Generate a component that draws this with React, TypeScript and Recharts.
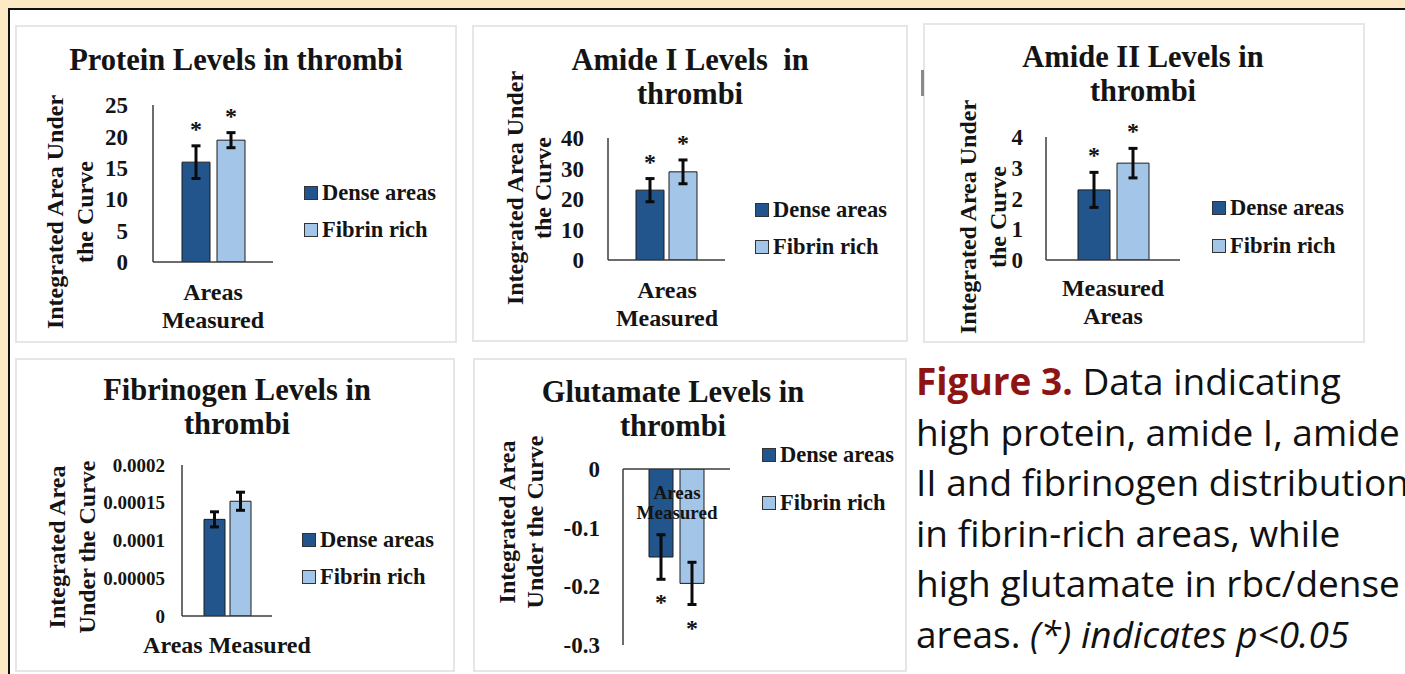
import React from 'react';
import { BarChart, Bar, XAxis, YAxis, ErrorBar, LabelList } from 'recharts';

// ---------------- data ----------------
const seriesNames = ['Dense areas', 'Fibrin rich'];
const seriesKeys = ['dense', 'fibrin'];
const category = 'Areas Measured';

const proteinValues = [15.9, 19.4];
const proteinErrors = [2.6, 1.2];
const proteinTicks = [0, 5, 10, 15, 20, 25];
const proteinStars = [true, true];

const amide1Values = [22.9, 28.9];
const amide1Errors = [3.8, 3.9];
const amide1Ticks = [0, 10, 20, 30, 40];
const amide1Stars = [true, true];

const amide2Values = [2.28, 3.15];
const amide2Errors = [0.57, 0.48];
const amide2Ticks = [0, 1, 2, 3, 4];
const amide2Stars = [true, true];

const fibrinogenValues = [0.000128, 0.000152];
const fibrinogenErrors = [0.00001, 0.000012];
const fibrinogenTicks = [0, 0.00005, 0.0001, 0.00015, 0.0002];
const fibrinogenStars = [false, false];

const glutamateValues = [-0.15, -0.195];
const glutamateErrors = [0.038, 0.036];
const glutamateTicks = [-0.3, -0.2, -0.1, 0];
const glutamateStars = [true, true];

const captionLines = [
  'high protein, amide I, amide',
  'II and fibrinogen distribution',
  'in fibrin-rich areas, while',
  'high glutamate in rbc/dense',
];

// ---------------- styles ----------------
const seriesColors = ['#21558C', '#A3C5E8'];
const SERIF = '"Liberation Serif", "Times New Roman", serif';
const INK = '#141414';

const makeData = (values: number[], errors: number[]) => [
  {
    category,
    dense: values[0],
    denseErr: errors[0],
    fibrin: values[1],
    fibrinErr: errors[1],
  },
];

const layouts: Record<string, any> = {
  protein: {
    px: 15, py: 25, pw: 442, ph: 318,
    axisX: 153, plotTop: 105, plotBottom: 262, plotRight: 273,
    barSize: 28, barGap: 7, tickFont: 23, tickGap: 25,
    titleLines: ['Protein Levels in thrombi'], titleX: 236, titleY: 60,
    yLines: ['Integrated Area Under', 'the Curve'], yX: 70, yY: 212, yFont: 24, yLH: 30,
    xLines: ['Areas', 'Measured'], xX: 213, xY: 292, xFont: 24, xLH: 28,
    legendX: 304, legendY: [193, 230], xTop: false,
  },
  amide1: {
    px: 472, py: 25, pw: 436, ph: 317,
    axisX: 608, plotTop: 138, plotBottom: 260, plotRight: 725,
    barSize: 28, barGap: 5, tickFont: 23, tickGap: 24,
    titleLines: ['Amide I Levels  in', 'thrombi'], titleX: 690, titleY: 60,
    yLines: ['Integrated Area Under', 'the Curve'], yX: 529, yY: 188, yFont: 24, yLH: 28,
    xLines: ['Areas', 'Measured'], xX: 667, xY: 290, xFont: 24, xLH: 28,
    legendX: 755, legendY: [210, 247], xTop: false,
  },
  amide2: {
    px: 923, py: 23, pw: 442, ph: 320,
    axisX: 1046, plotTop: 137, plotBottom: 260, plotRight: 1180,
    barSize: 32, barGap: 7, tickFont: 23, tickGap: 23,
    titleLines: ['Amide II Levels in', 'thrombi'], titleX: 1143, titleY: 57,
    yLines: ['Integrated Area Under', 'the Curve'], yX: 983, yY: 217, yFont: 24, yLH: 30,
    xLines: ['Measured', 'Areas'], xX: 1113, xY: 288, xFont: 24, xLH: 28,
    legendX: 1212, legendY: [208, 246], xTop: false,
  },
  fibrinogen: {
    px: 15, py: 358, pw: 440, ph: 314,
    axisX: 182, plotTop: 465, plotBottom: 616, plotRight: 272,
    barSize: 21, barGap: 5, tickFont: 19, tickGap: 17,
    titleLines: ['Fibrinogen Levels in', 'thrombi'], titleX: 237, titleY: 390,
    yLines: ['Integrated Area', 'Under the Curve'], yX: 72, yY: 547, yFont: 24, yLH: 30,
    xLines: ['Areas Measured'], xX: 227, xY: 645, xFont: 24, xLH: 28,
    legendX: 302, legendY: [540, 577], xTop: false,
  },
  glutamate: {
    px: 473, py: 358, pw: 434, ph: 314,
    axisX: 623, plotTop: 469, plotBottom: 645, plotRight: 730,
    barSize: 24, barGap: 7, tickFont: 23, tickGap: 23,
    titleLines: ['Glutamate Levels in', 'thrombi'], titleX: 673, titleY: 392,
    yLines: ['Integrated Area', 'Under the Curve'], yX: 521, yY: 522, yFont: 24, yLH: 28,
    xLines: ['Areas', 'Measured'], xX: 677, xY: 493, xFont: 19, xLH: 20,
    legendX: 762, legendY: [455, 503], xTop: true,
  },
};

const STAR_GAP = 20;

const starRenderer = (err: number) => (props: any) => {
  const vb = props.viewBox && props.viewBox.height !== undefined ? props.viewBox : props;
  const x = Number(vb.x);
  const y = Number(vb.y);
  const w = Number(vb.width);
  const h = Number(vb.height);
  const v = Number(props.value);
  if (!isFinite(x) || !isFinite(y) || !isFinite(h) || !v) return null;
  const ppu = Math.abs(h / v);
  const cx = x + w / 2;
  const cy =
    v >= 0
      ? Math.min(y, y + h) - err * ppu - STAR_GAP
      : Math.max(y, y + h) + err * ppu + STAR_GAP;
  return (
    <text
      x={cx}
      y={cy + 11}
      textAnchor="middle"
      fontFamily={SERIF}
      fontWeight={700}
      fontSize={24}
      fill={INK}
    >
      *
    </text>
  );
};

function ChartPanel({
  cfg,
  values,
  errors,
  ticks,
  stars,
}: {
  cfg: any;
  values: number[];
  errors: number[];
  ticks: number[];
  stars: boolean[];
}) {
  const data = makeData(values, errors);
  const domain = [ticks[0], ticks[ticks.length - 1]];
  const xh = 1;
  const right = cfg.px + cfg.pw - cfg.plotRight;
  const margin = cfg.xTop
    ? { top: cfg.plotTop - cfg.py - xh, bottom: cfg.py + cfg.ph - cfg.plotBottom, left: 0, right }
    : { top: cfg.plotTop - cfg.py, bottom: cfg.py + cfg.ph - cfg.plotBottom - xh, left: 0, right };

  const textBase: React.CSSProperties = {
    position: 'absolute',
    fontFamily: SERIF,
    fontWeight: 700,
    color: INK,
    whiteSpace: 'pre',
    textAlign: 'center',
  };

  return (
    <>
      <div
        style={{
          position: 'absolute',
          left: cfg.px,
          top: cfg.py,
          width: cfg.pw,
          height: cfg.ph,
          border: '2px solid #e6e6e6',
          boxSizing: 'border-box',
          background: '#ffffff',
        }}
      />
      <div style={{ position: 'absolute', left: cfg.px, top: cfg.py }}>
        <BarChart
          width={cfg.pw}
          height={cfg.ph}
          data={data}
          margin={margin}
          barGap={cfg.barGap}
          barSize={cfg.barSize}
        >
          <XAxis
            dataKey="category"
            orientation={cfg.xTop ? 'top' : 'bottom'}
            height={xh}
            tick={false}
            tickLine={false}
            axisLine={{ stroke: '#3c3c3c', strokeWidth: 1.5 }}
          />
          <YAxis
            type="number"
            width={cfg.axisX - cfg.px}
            domain={domain}
            ticks={ticks}
            interval={0}
            allowDataOverflow
            tickLine={false}
            tickSize={0}
            tickMargin={cfg.tickGap}
            axisLine={{ stroke: '#3c3c3c', strokeWidth: 1.5 }}
            tick={{ fontFamily: SERIF, fontWeight: 700, fontSize: cfg.tickFont, fill: INK }}
          />
          {seriesKeys.map((k, i) => (
            <Bar
              key={k}
              dataKey={k}
              name={seriesNames[i]}
              fill={seriesColors[i]}
              stroke="#1c1c1c"
              strokeWidth={1}
              isAnimationActive={false}
            >
              <ErrorBar dataKey={k + 'Err'} width={4.5} strokeWidth={3} stroke="#0b0b0b" direction="y" />
              {stars[i] ? <LabelList dataKey={k} content={starRenderer(errors[i])} /> : null}
            </Bar>
          ))}
        </BarChart>
      </div>
      {/* title */}
      <div
        style={{
          ...textBase,
          left: cfg.titleX,
          top: cfg.titleY - 17,
          transform: 'translateX(-50%)',
          fontSize: 30.5,
          lineHeight: '34px',
        }}
      >
        {cfg.titleLines.join('\n')}
      </div>
      {/* y axis title */}
      <div
        style={{
          ...textBase,
          left: cfg.yX,
          top: cfg.yY,
          transform: 'translate(-50%, -50%) rotate(-90deg)',
          fontSize: cfg.yFont,
          lineHeight: cfg.yLH + 'px',
        }}
      >
        {cfg.yLines.join('\n')}
      </div>
      {/* x axis title */}
      <div
        style={{
          ...textBase,
          left: cfg.xX,
          top: cfg.xY - cfg.xLH / 2,
          transform: 'translateX(-50%)',
          fontSize: cfg.xFont,
          lineHeight: cfg.xLH + 'px',
        }}
      >
        {cfg.xLines.join('\n')}
      </div>
      {/* legend */}
      {seriesNames.map((name, i) => (
        <div
          key={name}
          style={{
            position: 'absolute',
            left: cfg.legendX,
            top: cfg.legendY[i] - 12,
            height: 24,
            display: 'flex',
            alignItems: 'center',
            fontFamily: SERIF,
            fontWeight: 700,
            fontSize: 22.5,
            color: INK,
            whiteSpace: 'nowrap',
          }}
        >
          <span
            style={{
              display: 'inline-block',
              width: 12,
              height: 12,
              border: '1px solid #333',
              background: seriesColors[i],
              marginRight: 4,
            }}
          />
          {name}
        </div>
      ))}
    </>
  );
}

export default function App() {
  return (
    <div
      style={{
        position: 'absolute',
        left: 0,
        top: 0,
        width: 1405,
        height: 674,
        overflow: 'hidden',
        background: '#FCE9C5',
      }}
    >
      <div
        style={{
          position: 'absolute',
          left: 8,
          top: 8,
          width: 1397,
          height: 666,
          borderTop: '2px solid #111',
          borderLeft: '2px solid #111',
          boxSizing: 'border-box',
          background: '#ffffff',
        }}
      />
      <ChartPanel cfg={layouts.protein} values={proteinValues} errors={proteinErrors} ticks={proteinTicks} stars={proteinStars} />
      <ChartPanel cfg={layouts.amide1} values={amide1Values} errors={amide1Errors} ticks={amide1Ticks} stars={amide1Stars} />
      <ChartPanel cfg={layouts.amide2} values={amide2Values} errors={amide2Errors} ticks={amide2Ticks} stars={amide2Stars} />
      <ChartPanel cfg={layouts.fibrinogen} values={fibrinogenValues} errors={fibrinogenErrors} ticks={fibrinogenTicks} stars={fibrinogenStars} />
      <ChartPanel cfg={layouts.glutamate} values={glutamateValues} errors={glutamateErrors} ticks={glutamateTicks} stars={glutamateStars} />
      <div style={{ position: 'absolute', left: 921, top: 70, width: 3, height: 26, background: '#8a8a8a' }} />
      <div
        style={{
          position: 'absolute',
          left: 916,
          top: 356,
          fontFamily: '"Open Sans", "Noto Sans", sans-serif',
          fontSize: 37,
          lineHeight: '50.6px',
          color: '#111',
          whiteSpace: 'nowrap',
        }}
      >
        <div>
          <span style={{ color: '#8E1414', fontWeight: 700 }}>Figure 3.</span> Data indicating
        </div>
        {captionLines.map((l) => (
          <div key={l}>{l}</div>
        ))}
        <div>
          areas. <i>(*) indicates p&lt;0.05</i>
        </div>
      </div>
    </div>
  );
}
